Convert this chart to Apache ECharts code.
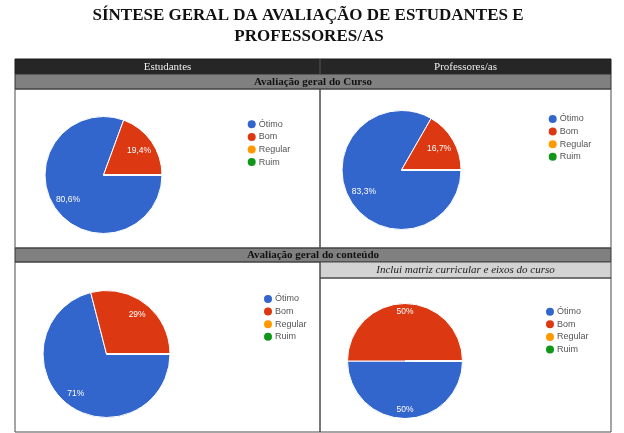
<!DOCTYPE html>
<html>
<head>
<meta charset="utf-8">
<title>Síntese geral da avaliação</title>
<script src="https://cdn.jsdelivr.net/npm/echarts@6/dist/echarts.min.js"></script>
<style>
html, body { margin: 0; padding: 0; background: #fff; }
#main { width: 624px; height: 433px; }
</style>
</head>
<body>
<div id="main"></div>
<script>
// dados (percentuais)
var categories = ['Ótimo', 'Bom', 'Regular', 'Ruim'];
var cursoEstudantes = [80.6, 19.4, 0, 0];
var cursoProfessores = [83.3, 16.7, 0, 0];
var conteudoEstudantes = [71, 29, 0, 0];
var conteudoProfessores = [50, 50, 0, 0];

var colors = ['#3366cc', '#dc3912', '#ff9900', '#109618'];
var serif = '"Liberation Serif", "DejaVu Serif", serif';
var sans = '"Liberation Sans", Arial, sans-serif';

// 80.6 -> "80,6%"
function pct(v){
    return String(v).replace('.', ',') + '%';
}
function toData(values){
    return categories.map(function(name, i){
        return { name: name, value: values[i] };
    });
}

// cada painel: valores, centro, raio, posicao da legenda, fator do rotulo
var panels = [
    { values: cursoEstudantes,     cx: 103.5, cy: 175, r: 58.5, lx: 242.7, ly: 114.3, k: 0.69 },
    { values: cursoProfessores,    cx: 401.5, cy: 170, r: 59.5, lx: 543.7, ly: 109, k: 0.68 },
    { values: conteudoEstudantes,  cx: 106.5, cy: 354, r: 63.5, lx: 259, ly: 289, k: 0.74 },
    { values: conteudoProfessores, cx: 405,   cy: 361, r: 57.5, lx: 541, ly: 301.7, k: 0.8 }
];

var series = [], legends = [];
panels.forEach(function(p){
    // a pizza
    series.push({
        type: 'pie',
        center: [p.cx, p.cy],
        radius: [0, p.r],
        startAngle: 0,
        clockwise: true,
        avoidLabelOverlap: false,
        label: { show: false },
        labelLine: { show: false },
        itemStyle: { borderColor: '#fff', borderWidth: 1 },
        emphasis: { scale: false },
        data: toData(p.values)
    });
    // anel transparente so para posicionar os rotulos
    series.push({
        type: 'pie',
        silent: true,
        center: [p.cx, p.cy],
        radius: [(2 * p.k - 1) * p.r, p.r],
        startAngle: 0,
        clockwise: true,
        avoidLabelOverlap: false,
        itemStyle: { color: 'rgba(0,0,0,0)' },
        label: {
            show: true,
            position: 'inside',
            color: '#fff',
            fontSize: 8.5,
            fontFamily: sans,
            formatter: function(o){ return o.value ? pct(o.value) : ''; }
        },
        labelLine: { show: false },
        data: toData(p.values)
    });
    legends.push({
        orient: 'vertical',
        left: p.lx,
        top: p.ly,
        data: categories,
        icon: 'circle',
        itemWidth: 8,
        itemHeight: 8,
        itemGap: 2.6,
        selectedMode: false,
        itemStyle: { borderWidth: 0 },
        textStyle: { fontSize: 9, lineHeight: 10, color: '#555', fontFamily: sans, padding: [0, 0, 0, -2] }
    });
});

// tabela
var L = 15, R = 611, M = 320;
var line = '#4a4a4a';
var graphic = [
    { type: 'rect', shape: { x: L, y: 59, width: R - L, height: 15 }, style: { fill: '#262626', stroke: '#1a1a1a', lineWidth: 1 } },
    { type: 'rect', shape: { x: L, y: 74, width: R - L, height: 15 }, style: { fill: '#808080', stroke: '#333', lineWidth: 1 } },
    { type: 'rect', shape: { x: L, y: 248, width: R - L, height: 14 }, style: { fill: '#808080', stroke: '#333', lineWidth: 1 } },
    { type: 'rect', shape: { x: M, y: 262, width: R - M, height: 16 }, style: { fill: '#d3d3d3', stroke: line, lineWidth: 1 } },
    // bordas das celulas
    { type: 'rect', shape: { x: L, y: 89, width: M - L, height: 159 }, style: { fill: 'none', stroke: line, lineWidth: 1 } },
    { type: 'rect', shape: { x: M, y: 89, width: R - M, height: 159 }, style: { fill: 'none', stroke: line, lineWidth: 1 } },
    { type: 'rect', shape: { x: L, y: 262, width: M - L, height: 170 }, style: { fill: 'none', stroke: line, lineWidth: 1 } },
    { type: 'rect', shape: { x: M, y: 278, width: R - M, height: 154 }, style: { fill: 'none', stroke: line, lineWidth: 1 } },
    { type: 'line', shape: { x1: M, y1: 59, x2: M, y2: 74 }, style: { stroke: '#555', lineWidth: 1 } },
    // titulo
    { type: 'text', x: 308, y: 16, style: { text: 'SÍNTESE GERAL DA AVALIAÇÃO DE ESTUDANTES E', font: 'bold 17px ' + serif, fill: '#111', textAlign: 'center', textVerticalAlign: 'middle' } },
    { type: 'text', x: 309, y: 37, style: { text: 'PROFESSORES/AS', font: 'bold 17px ' + serif, fill: '#111', textAlign: 'center', textVerticalAlign: 'middle' } },
    // cabecalhos
    { type: 'text', x: (L + M) / 2, y: 67, style: { text: 'Estudantes', font: '11px ' + serif, fill: '#eee', textAlign: 'center', textVerticalAlign: 'middle' } },
    { type: 'text', x: (M + R) / 2, y: 67, style: { text: 'Professores/as', font: '11px ' + serif, fill: '#eee', textAlign: 'center', textVerticalAlign: 'middle' } },
    { type: 'text', x: (L + R) / 2, y: 82, style: { text: 'Avaliação geral do Curso', font: 'bold 11px ' + serif, fill: '#111', textAlign: 'center', textVerticalAlign: 'middle' } },
    { type: 'text', x: (L + R) / 2, y: 255.5, style: { text: 'Avaliação geral do conteúdo', font: 'bold 11px ' + serif, fill: '#111', textAlign: 'center', textVerticalAlign: 'middle' } },
    { type: 'text', x: (M + R) / 2, y: 270.5, style: { text: 'Inclui matriz curricular e eixos do curso', font: 'italic 11px ' + serif, fill: '#222', textAlign: 'center', textVerticalAlign: 'middle' } }
];

var chart = echarts.init(document.getElementById('main'));
chart.setOption({
    color: colors,
    animation: false,
    legend: legends,
    series: series,
    graphic: graphic
});
</script>
</body>
</html>
